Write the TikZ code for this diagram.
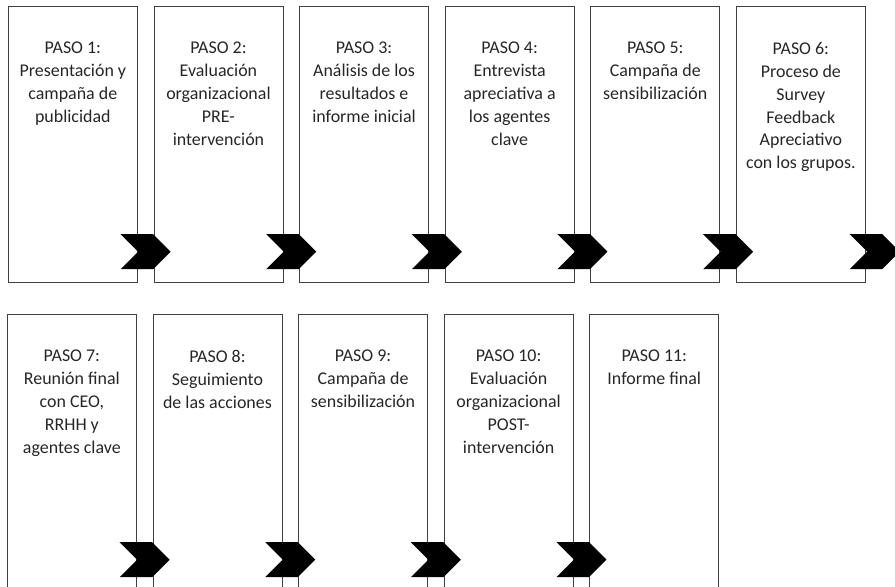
\documentclass[tikz,border=0pt]{standalone}
\usepackage{fontspec}
\setmainfont{Carlito}
\usetikzlibrary{calc, positioning, shapes.symbols}

\begin{document}
\begin{tikzpicture}[x=1bp, y=-1bp,
    paso/.style={draw=black!75, line width=0.7pt, anchor=north west,
      minimum width=129bp, minimum height=276bp, inner sep=0pt},
    pasotxt/.style={align=center, inner sep=0pt, text=black!85,
      font=\fontsize{18}{23}\selectfont},
    flecha/.style={shape=signal, signal from=west, signal to=east,
      signal pointer angle=90, fill=black, draw=none, inner sep=0pt,
      minimum width=50bp, minimum height=35bp},
  ]
  \useasboundingbox (0,0) rectangle (895,587);
  \clip (0,0) rectangle (895,587);

  % fila superior
  \node[paso] (p1) at (8,6) {};
  \node[paso] (p2) at (153.6,6) {};
  \node[paso] (p3) at (299.2,6) {};
  \node[paso] (p4) at (444.8,6) {};
  \node[paso] (p5) at (590.4,6) {};
  \node[paso] (p6) at (736,6) {};
  % fila inferior
  \node[paso] (p7) at (7,314) {};
  \node[paso] (p8) at (152.6,314) {};
  \node[paso] (p9) at (298.2,314) {};
  \node[paso] (p10) at (443.8,314) {};
  \node[paso] (p11) at (589.4,314) {};

  \node[pasotxt, below=36bp of p1.north] (t1) {PASO 1:\\Presentación y\\campaña de\\publicidad};
  \node[pasotxt, below=36bp of p2.north] (t2) {PASO 2:\\Evaluación\\organizacional\\PRE-\\intervención};
  \node[pasotxt, below=36bp of p3.north] (t3) {PASO 3:\\Análisis de los\\resultados e\\informe inicial};
  \node[pasotxt, below=36bp of p4.north] (t4) {PASO 4:\\Entrevista\\apreciativa a\\los agentes\\clave};
  \node[pasotxt, below=36bp of p5.north] (t5) {PASO 5:\\Campaña de\\sensibilización};
  \node[pasotxt, below=36bp of p6.north] (t6) {PASO 6:\\Proceso de\\Survey\\Feedback\\Apreciativo\\con los grupos.};
  \node[pasotxt, below=36bp of p7.north] (t7) {PASO 7:\\Reunión final\\con CEO,\\RRHH y\\agentes clave};
  \node[pasotxt, below=36bp of p8.north] (t8) {PASO 8:\\Seguimiento\\de las acciones};
  \node[pasotxt, below=36bp of p9.north] (t9) {PASO 9:\\Campaña de\\sensibilización};
  \node[pasotxt, below=36bp of p10.north] (t10) {PASO 10:\\Evaluación\\organizacional\\POST-\\intervención};
  \node[pasotxt, below=36bp of p11.north] (t11) {PASO 11:\\Informe final};

  % flechas entre pasos
  \foreach \a/\b in {1/2,2/3,3/4,4/5,5/6,7/8,8/9,9/10,10/11}
    \node[flecha] (f\a) at ($(p\a.south east)!0.5!(p\b.south west)+(0,-31)$) {};
  \node[flecha] (f6) at ($(p6.south east)+(9,-31)$) {};
\end{tikzpicture}
\end{document}
